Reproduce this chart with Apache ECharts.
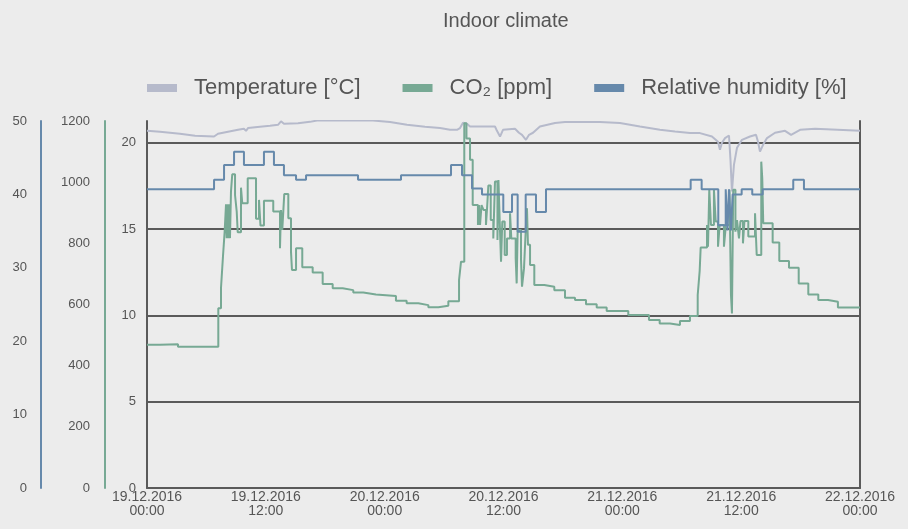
<!DOCTYPE html>
<html>
<head>
<meta charset="utf-8">
<script src="https://cdn.jsdelivr.net/npm/echarts@6/dist/echarts.min.js"></script>
<style>
html,body{margin:0;padding:0;background:#ececec;}
#c{width:908px;height:529px;}
</style>
</head>
<body>
<div id="c"></div>
<script>
// Hours since 19.12.2016 00:00
const xTickLabels = ['19.12.2016\n00:00','19.12.2016\n12:00','20.12.2016\n00:00','20.12.2016\n12:00','21.12.2016\n00:00','21.12.2016\n12:00','22.12.2016\n00:00'];
const seriesNames = ['Temperature [°C]', 'CO\u2082 [ppm]', 'Relative humidity [%]'];

const tempHours = [0,1.31,3.33,4.85,6.77,7.17,8.18,9.19,9.79,10.0,10.2,11.41,12.42,13.23,13.53,13.83,15.25,16.46,17.17,22.82,24.54,26.25,28.07,29.59,30.60,31.30,31.61,31.91,32.11,32.31,32.62,35.14,35.34,35.65,35.95,37.16,37.56,37.87,38.27,38.58,38.98,39.68,41.20,42.21,45.74,47.76,49.78,51.80,53.32,54.83,55.84,57.05,57.66,57.86,58.06,58.37,58.77,58.92,59.07,59.27,59.58,60.08,60.89,61.50,61.70,61.90,62.21,62.61,63.42,64.43,65.04,65.95,67.46,72];
const tempValues = [20.68,20.63,20.51,20.39,20.35,20.51,20.63,20.74,20.80,20.68,20.84,20.92,20.97,21.03,21.23,21.09,21.12,21.20,21.28,21.28,21.19,21.03,20.92,20.84,20.74,20.74,20.84,21.15,21.22,21.09,20.93,20.93,20.68,20.35,20.74,20.80,20.57,20.45,20.16,20.45,20.57,20.93,21.13,21.19,21.19,21.13,20.93,20.74,20.64,20.55,20.55,20.35,20.05,19.58,19.99,20.26,20.41,19.0,17.17,18.71,19.70,20.16,20.35,20.45,20.05,19.48,19.87,20.26,20.57,20.68,20.45,20.74,20.80,20.68];

const co2Hours = [0,1.31,3.13,7.20,7.47,7.67,7.83,7.98,8.05,8.13,8.21,8.30,8.38,8.48,8.61,8.89,9.06,9.16,9.49,9.62,10.17,11.01,11.31,11.46,11.81,12.75,13.43,13.53,13.66,13.86,14.27,14.54,14.64,15.05,15.68,16.73,17.74,18.75,19.76,20.83,21.84,23.12,25.14,26.22,27.40,28.41,29.42,30.43,31.51,31.71,32.04,32.26,32.62,32.89,33.42,33.52,33.63,33.78,33.98,34.23,34.33,34.47,34.71,34.97,35.14,35.39,35.49,35.65,35.75,35.88,36.12,36.35,36.66,36.79,37.23,37.33,37.43,37.77,37.87,38.07,38.27,38.37,38.47,38.68,39.11,40.12,41.13,42.21,43.22,44.33,45.41,46.42,48.60,50.69,51.77,52.81,53.82,54.83,55.61,55.81,55.91,56.55,56.65,56.78,56.95,57.25,57.43,57.66,57.83,58.26,58.46,58.82,58.97,59.07,59.20,59.42,59.58,59.78,59.93,60.18,60.33,60.72,61.40,61.57,62.03,62.13,62.23,63.18,63.85,64.83,65.81,66.78,67.79,68.77,69.77,72];
const co2Values = [468,470,462,588,653,756,833,928,817,928,817,928,817,969,1026,958,904,836,982,931,1013,880,942,858,939,904,784,909,844,961,882,773,713,784,722,705,667,653,647,639,633,628,612,604,598,591,596,611,680,740,1193,1143,1073,925,860,925,860,925,909,860,909,989,876,816,1002,811,1007,838,740,871,762,816,898,816,751,669,844,746,658,718,860,915,795,729,664,658,647,622,615,601,590,579,566,549,538,533,546,562,631,710,786,860,789,975,860,975,871,789,860,789,860,975,631,571,975,838,876,816,873,800,873,822,898,762,1067,1013,866,803,742,720,669,633,615,609,590,590];

const rhHours = [0,6.77,7.78,8.79,9.79,11.81,12.82,13.83,15.05,16.06,21.31,25.65,30.70,31.81,32.82,33.83,35.98,36.86,37.43,38.24,39.28,40.29,54.90,56.01,57.69,58.44,58.62,58.77,58.97,59.14,60.05,61.12,62.17,65.26,66.34,72];
const rhValues = [40.7,42.0,44.0,45.8,44.0,45.8,44.0,42.6,42.0,42.6,42.0,42.6,44.0,42.6,40.8,40.0,37.6,40.0,34.9,40.0,37.6,40.7,42.0,40.7,35.8,40.7,35.1,40.7,35.1,40.0,40.7,40.0,40.7,42.0,40.7,40.7];

const tempTicks = {min: 0, max: 21.25, interval: 5};
const co2Ticks = {min: 0, max: 1200, interval: 200};
const rhTicks = {min: 0, max: 50, interval: 10};

const colors = ['#b6bacb', '#77a994', '#6689ab'];
const zip = (a, b) => a.map((v, i) => [v, b[i]]);
const FONT = 'Liberation Sans, Arial, sans-serif';
const TXT = '#555555';
const plain = v => String(v);

const chart = echarts.init(document.getElementById('c'), null, {renderer: 'canvas'});
chart.setOption({
  backgroundColor: '#ececec',
  animation: false,
  color: colors,
  title: {
    text: 'Indoor climate',
    left: 438, top: 6,
    textStyle: {fontFamily: FONT, fontSize: 20, fontWeight: 'normal', color: TXT}
  },
  legend: {
    left: 142, top: 72,
    icon: 'rect', itemWidth: 30, itemHeight: 8, itemGap: 42,
    textStyle: {fontFamily: FONT, fontSize: 22, color: TXT, padding: [0, 0, 0, 12]},
    data: seriesNames
  },
  grid: {left: 147, right: 48, top: 121, bottom: 41, containLabel: false},
  xAxis: {
    type: 'value', min: 0, max: 72, interval: 12,
    axisLine: {show: true, lineStyle: {color: '#5a5a5a', width: 2}},
    axisTick: {show: false},
    splitLine: {show: false},
    axisLabel: {
      fontFamily: FONT, fontSize: 14, color: TXT, margin: 2, lineHeight: 14,
      formatter: v => xTickLabels[Math.round(v / 12)]
    }
  },
  yAxis: [
    {
      type: 'value', position: 'left', offset: 0,
      min: tempTicks.min, max: tempTicks.max, interval: tempTicks.interval,
      axisLine: {show: true, lineStyle: {color: '#5a5a5a', width: 2}},
      axisTick: {show: false},
      axisLabel: {fontFamily: FONT, fontSize: 13, color: TXT, margin: 11, showMaxLabel: false, formatter: plain},
      splitLine: {show: true, showMaxLine: false, lineStyle: {color: '#5a5a5a', width: 2}}
    },
    {
      type: 'value', position: 'left', offset: 42,
      min: co2Ticks.min, max: co2Ticks.max, interval: co2Ticks.interval,
      axisLine: {show: true, lineStyle: {color: colors[1], width: 2}},
      axisTick: {show: false},
      axisLabel: {fontFamily: FONT, fontSize: 13, color: TXT, margin: 15, formatter: plain},
      splitLine: {show: false}
    },
    {
      type: 'value', position: 'left', offset: 106,
      min: rhTicks.min, max: rhTicks.max, interval: rhTicks.interval,
      axisLine: {show: true, lineStyle: {color: colors[2], width: 2}},
      axisTick: {show: false},
      axisLabel: {fontFamily: FONT, fontSize: 13, color: TXT, margin: 14, formatter: plain},
      splitLine: {show: false}
    },
    {
      type: 'value', position: 'right', min: 0, max: 1,
      axisLine: {show: true, lineStyle: {color: '#5a5a5a', width: 2}},
      axisTick: {show: false}, axisLabel: {show: false}, splitLine: {show: false}
    }
  ],
  series: [
    {
      name: seriesNames[0], type: 'line', yAxisIndex: 0, showSymbol: false,
      lineStyle: {width: 2, color: colors[0]}, itemStyle: {color: colors[0]},
      data: zip(tempHours, tempValues)
    },
    {
      name: seriesNames[1], type: 'line', yAxisIndex: 1, showSymbol: false, step: 'end',
      lineStyle: {width: 2, color: colors[1]}, itemStyle: {color: colors[1]},
      data: zip(co2Hours, co2Values)
    },
    {
      name: seriesNames[2], type: 'line', yAxisIndex: 2, showSymbol: false, step: 'end',
      lineStyle: {width: 2, color: colors[2]}, itemStyle: {color: colors[2]},
      data: zip(rhHours, rhValues)
    }
  ]
});
</script>
</body>
</html>
